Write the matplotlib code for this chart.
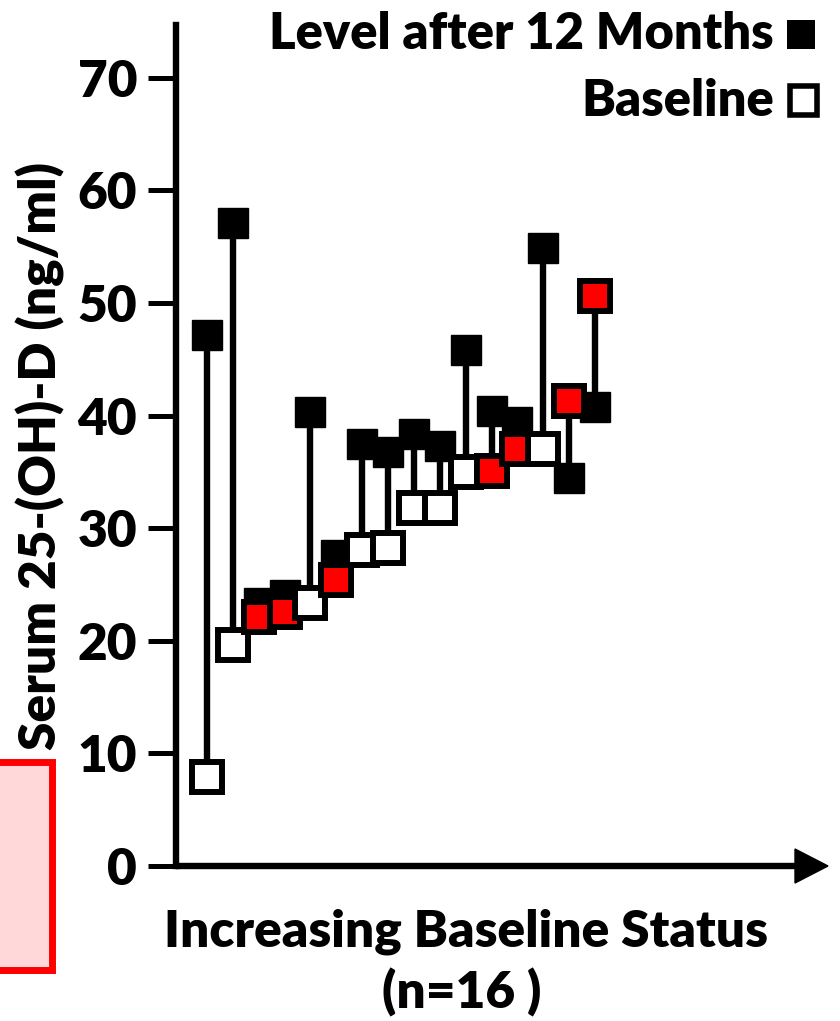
import matplotlib
matplotlib.use("Agg")
import matplotlib.pyplot as plt
from matplotlib.patches import Rectangle, Polygon
import numpy as np

# ---- data ----
subjects = list(range(1, 17))
baseline = [7.9, 19.6, 22.1, 22.6, 23.4, 25.4, 28.1, 28.2, 31.8, 31.8, 35.0, 35.1, 37.0, 37.0, 41.3, 50.6]
after_12m = [47.2, 57.1, 23.4, 24.1, 40.3, 27.6, 37.5, 36.8, 38.4, 37.3, 45.8, 40.4, 39.4, 54.9, 34.5, 40.8]
highlight = [False, False, True, True, False, True, False, False, False, False, False, True, True, False, True, True]
yticks = [0, 10, 20, 30, 40, 50, 60, 70]
legend_labels = ["Level after 12 Months", "Baseline"]
xlabel_lines = ["Increasing Baseline Status", "(n=16 )"]
ylabel = "Serum 25-(OH)-D (ng/ml)"

plt.rcParams['font.family'] = ['Lato', 'DejaVu Sans']
WEIGHT = 'heavy'
plt.rcParams['font.weight'] = WEIGHT

W, H = 840, 1021
fig = plt.figure(figsize=(W / 100, H / 100), dpi=100)

def fx(px):
    return px / W

def fy(py):
    return 1 - py / H

ax = fig.add_axes([fx(176), fy(866), fx(800) - fx(176), fy(25) - fy(866)])
ax.set_ylim(0, (866 - 25) / 11.26)
x0 = 1 - (207 - 176) / 25.87
x1 = 16 + (800 - 595) / 25.87
ax.set_xlim(x0, x1)

lw_line = 4.6
ms = 21
for x, b, a in zip(subjects, baseline, after_12m):
    ax.plot([x, x], [b, a], color='black', lw=lw_line, solid_capstyle='butt', zorder=1)

ax.plot(subjects, after_12m, ls='none', marker='s', ms=ms, mfc='black', mec='black', mew=1, zorder=2, clip_on=False)
for x, b, h in zip(subjects, baseline, highlight):
    ax.plot([x], [b], ls='none', marker='s', ms=ms, mfc='red' if h else 'white', mec='black', mew=4.3, zorder=3, clip_on=False)

for s in ['top', 'right']:
    ax.spines[s].set_visible(False)
ax.spines['left'].set_linewidth(4.6)
ax.spines['bottom'].set_linewidth(4.6)
ax.spines['bottom'].set_capstyle('butt')
ax.set_xticks([])
ax.set_yticks(yticks)
ax.set_yticklabels([str(t) for t in yticks], fontsize=37, fontweight=WEIGHT)
ax.tick_params(axis='y', direction='out', length=20, width=3.6, pad=8)

# arrow head at the end of the x axis
yb = fy(866)
tri = Polygon([[fx(795), yb + 17 / H], [fx(828), yb], [fx(795), yb - 17 / H]],
              closed=True, transform=fig.transFigure, color='black', clip_on=False)
fig.patches.append(tri)

# axis labels
fig.text(fx(466), fy(932), xlabel_lines[0], ha='center', va='center', fontsize=37, fontweight=WEIGHT)
fig.text(fx(462), fy(992), xlabel_lines[1], ha='center', va='center', fontsize=37, fontweight=WEIGHT)
fig.text(fx(40), fy(456), ylabel, rotation=90, ha='center', va='center', fontsize=37, fontweight=WEIGHT)

# legend
fig.text(fx(774), fy(34), legend_labels[0], ha='right', va='center', fontsize=36.5, fontweight=WEIGHT)
fig.text(fx(774), fy(101), legend_labels[1], ha='right', va='center', fontsize=36.5, fontweight=WEIGHT)
fig.patches.append(Rectangle((fx(787), fy(49)), fx(28), 29 / H, transform=fig.transFigure,
                             facecolor='black', edgecolor='black', lw=0))
fig.patches.append(Rectangle((fx(790), fy(115)), fx(27), 29 / H, transform=fig.transFigure,
                             facecolor='white', edgecolor='black', lw=4))

# highlight box on the left edge
fig.patches.append(Rectangle((fx(-5), fy(970)), fx(57), (970 - 762) / H, transform=fig.transFigure,
                             facecolor='#ffd9d9', edgecolor='red', lw=5))

fig.savefig('out.png', dpi=100)
